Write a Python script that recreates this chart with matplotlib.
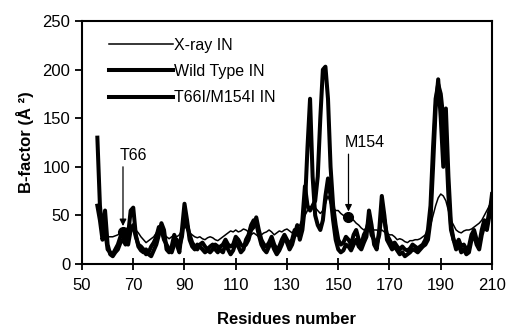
import matplotlib
matplotlib.use("Agg")
import matplotlib.pyplot as plt

plt.rcParams['font.family'] = ['Liberation Sans', 'DejaVu Sans']

# numéros de résidus 56..210
residus = list(range(56, 211))

xray = [60, 50, 35, 28, 28, 28, 28, 29, 30, 32, 34, 35, 38, 40, 38, 35, 32, 28, 25, 22,
        24, 26, 28, 32, 35, 33, 30, 28, 26, 28, 30, 28, 30, 35, 40, 35, 32, 30, 28, 27,
        28, 26, 25, 27, 28, 27, 25, 24, 26, 28, 30, 32, 34, 33, 35, 33, 34, 36, 35, 33,
        30, 32, 30, 28, 30, 32, 33, 35, 33, 30, 32, 34, 33, 35, 36, 34, 32, 35, 38, 40,
        45, 50, 55, 58, 60, 58, 55, 52, 55, 62, 70, 62, 58, 55, 55, 52, 50, 50, 48, 48,
        45, 42, 40, 37, 35, 37, 38, 36, 35, 35, 33, 35, 33, 32, 30, 30, 28, 25, 26, 25,
        23, 22, 24, 24, 25, 25, 26, 28, 30, 33, 40, 50, 60, 68, 72, 70, 65, 55, 45, 40,
        35, 33, 32, 34, 35, 35, 36, 38, 40, 42, 45, 50, 55, 60, 65]

wild_type = [130, 60, 30, 55, 20, 10, 8, 12, 15, 22, 25, 20, 30, 55, 58, 30, 18, 14, 12, 15,
             10, 8, 14, 20, 30, 42, 35, 15, 12, 18, 30, 20, 12, 35, 62, 45, 25, 18, 15, 20,
             18, 15, 12, 14, 12, 15, 20, 18, 14, 12, 20, 15, 10, 14, 22, 18, 12, 15, 25, 30,
             40, 45, 42, 30, 20, 15, 12, 18, 22, 15, 10, 14, 20, 28, 22, 15, 20, 30, 40, 25,
             35, 60, 120, 170, 90, 50, 40, 35, 45, 70, 88, 70, 45, 25, 15, 12, 14, 20, 18, 14,
             20, 25, 18, 15, 22, 28, 55, 40, 20, 15, 35, 70, 50, 25, 20, 15, 18, 14, 10, 12,
             8, 10, 12, 15, 14, 12, 15, 18, 20, 25, 45, 100, 160, 190, 150, 100, 160, 90, 40, 25,
             15, 20, 12, 15, 10, 12, 25, 30, 20, 15, 30, 40, 35, 50, 72]

t66i_m154i = [60, 45, 25, 35, 15, 12, 10, 15, 20, 28, 30, 25, 20, 35, 40, 28, 20, 18, 15, 10,
              12, 18, 22, 28, 38, 35, 25, 20, 15, 12, 20, 25, 18, 28, 50, 40, 30, 22, 18, 15,
              20, 22, 18, 15, 18, 20, 15, 12, 18, 20, 25, 20, 18, 20, 28, 25, 20, 18, 20, 25,
              35, 38, 48, 35, 25, 20, 18, 22, 28, 20, 15, 18, 25, 30, 25, 20, 25, 35, 30, 30,
              45, 80, 60, 55, 60, 65, 90, 150, 200, 203, 170, 100, 60, 40, 25, 20, 22, 28, 25, 20,
              30, 35, 25, 20, 30, 35, 45, 30, 25, 20, 30, 55, 45, 30, 25, 20, 22, 18, 15, 18,
              15, 14, 16, 20, 18, 16, 18, 20, 25, 35, 60, 120, 170, 185, 175, 150, 130, 70, 35, 25,
              20, 25, 18, 20, 15, 18, 30, 35, 25, 20, 35, 45, 40, 55, 65]

# points marqués (mutations)
mutations = ['T66', 'M154']
mut_x = [66, 154]
mut_y = [33, 48]

fig = plt.figure(figsize=(5.08, 3.33), dpi=100)
ax = fig.add_axes([0.1614, 0.2072, 0.8071, 0.7297])

ax.plot(residus, xray, color='black', lw=1.1, label='X-ray IN')
ax.plot(residus, wild_type, color='black', lw=2.9, label='Wild Type IN')
ax.plot(residus, t66i_m154i, color='black', lw=2.9, label='T66I/M154I IN')

ax.plot(mut_x, mut_y, 'o', color='black', ms=7)
for nom, mx, my, ty in zip(mutations, mut_x, mut_y, [112, 125]):
    ax.annotate('', xy=(mx, my + 6), xytext=(mx, ty - 12),
                arrowprops=dict(arrowstyle='-|>', color='black', lw=0.9,
                                mutation_scale=10, shrinkA=0, shrinkB=0))
    ax.text(mx - 1.5, ty, nom, fontsize=11.5, ha='left', va='center')

ax.set_xlim(50, 210)
ax.set_ylim(0, 250)
ax.set_xticks(range(50, 211, 20))
ax.set_yticks(range(0, 251, 50))
ax.tick_params(axis='x', direction='inout', length=8, width=1.3, labelsize=12, pad=6)
ax.tick_params(axis='y', direction='out', length=5, width=1.3, labelsize=12)
for sp in ax.spines.values():
    sp.set_linewidth(1.5)

ax.set_xlabel('Residues number', fontsize=12, fontweight='bold', labelpad=14)
ax.set_ylabel('B-factor (Å ²)', fontsize=12, fontweight='bold', labelpad=6)

leg = ax.legend(loc='upper left', bbox_to_anchor=(0.03, 0.99), frameon=False,
                fontsize=11.5, handlelength=4.0, handletextpad=0.1, labelspacing=0.7)

fig.savefig('out.png', dpi=100)
